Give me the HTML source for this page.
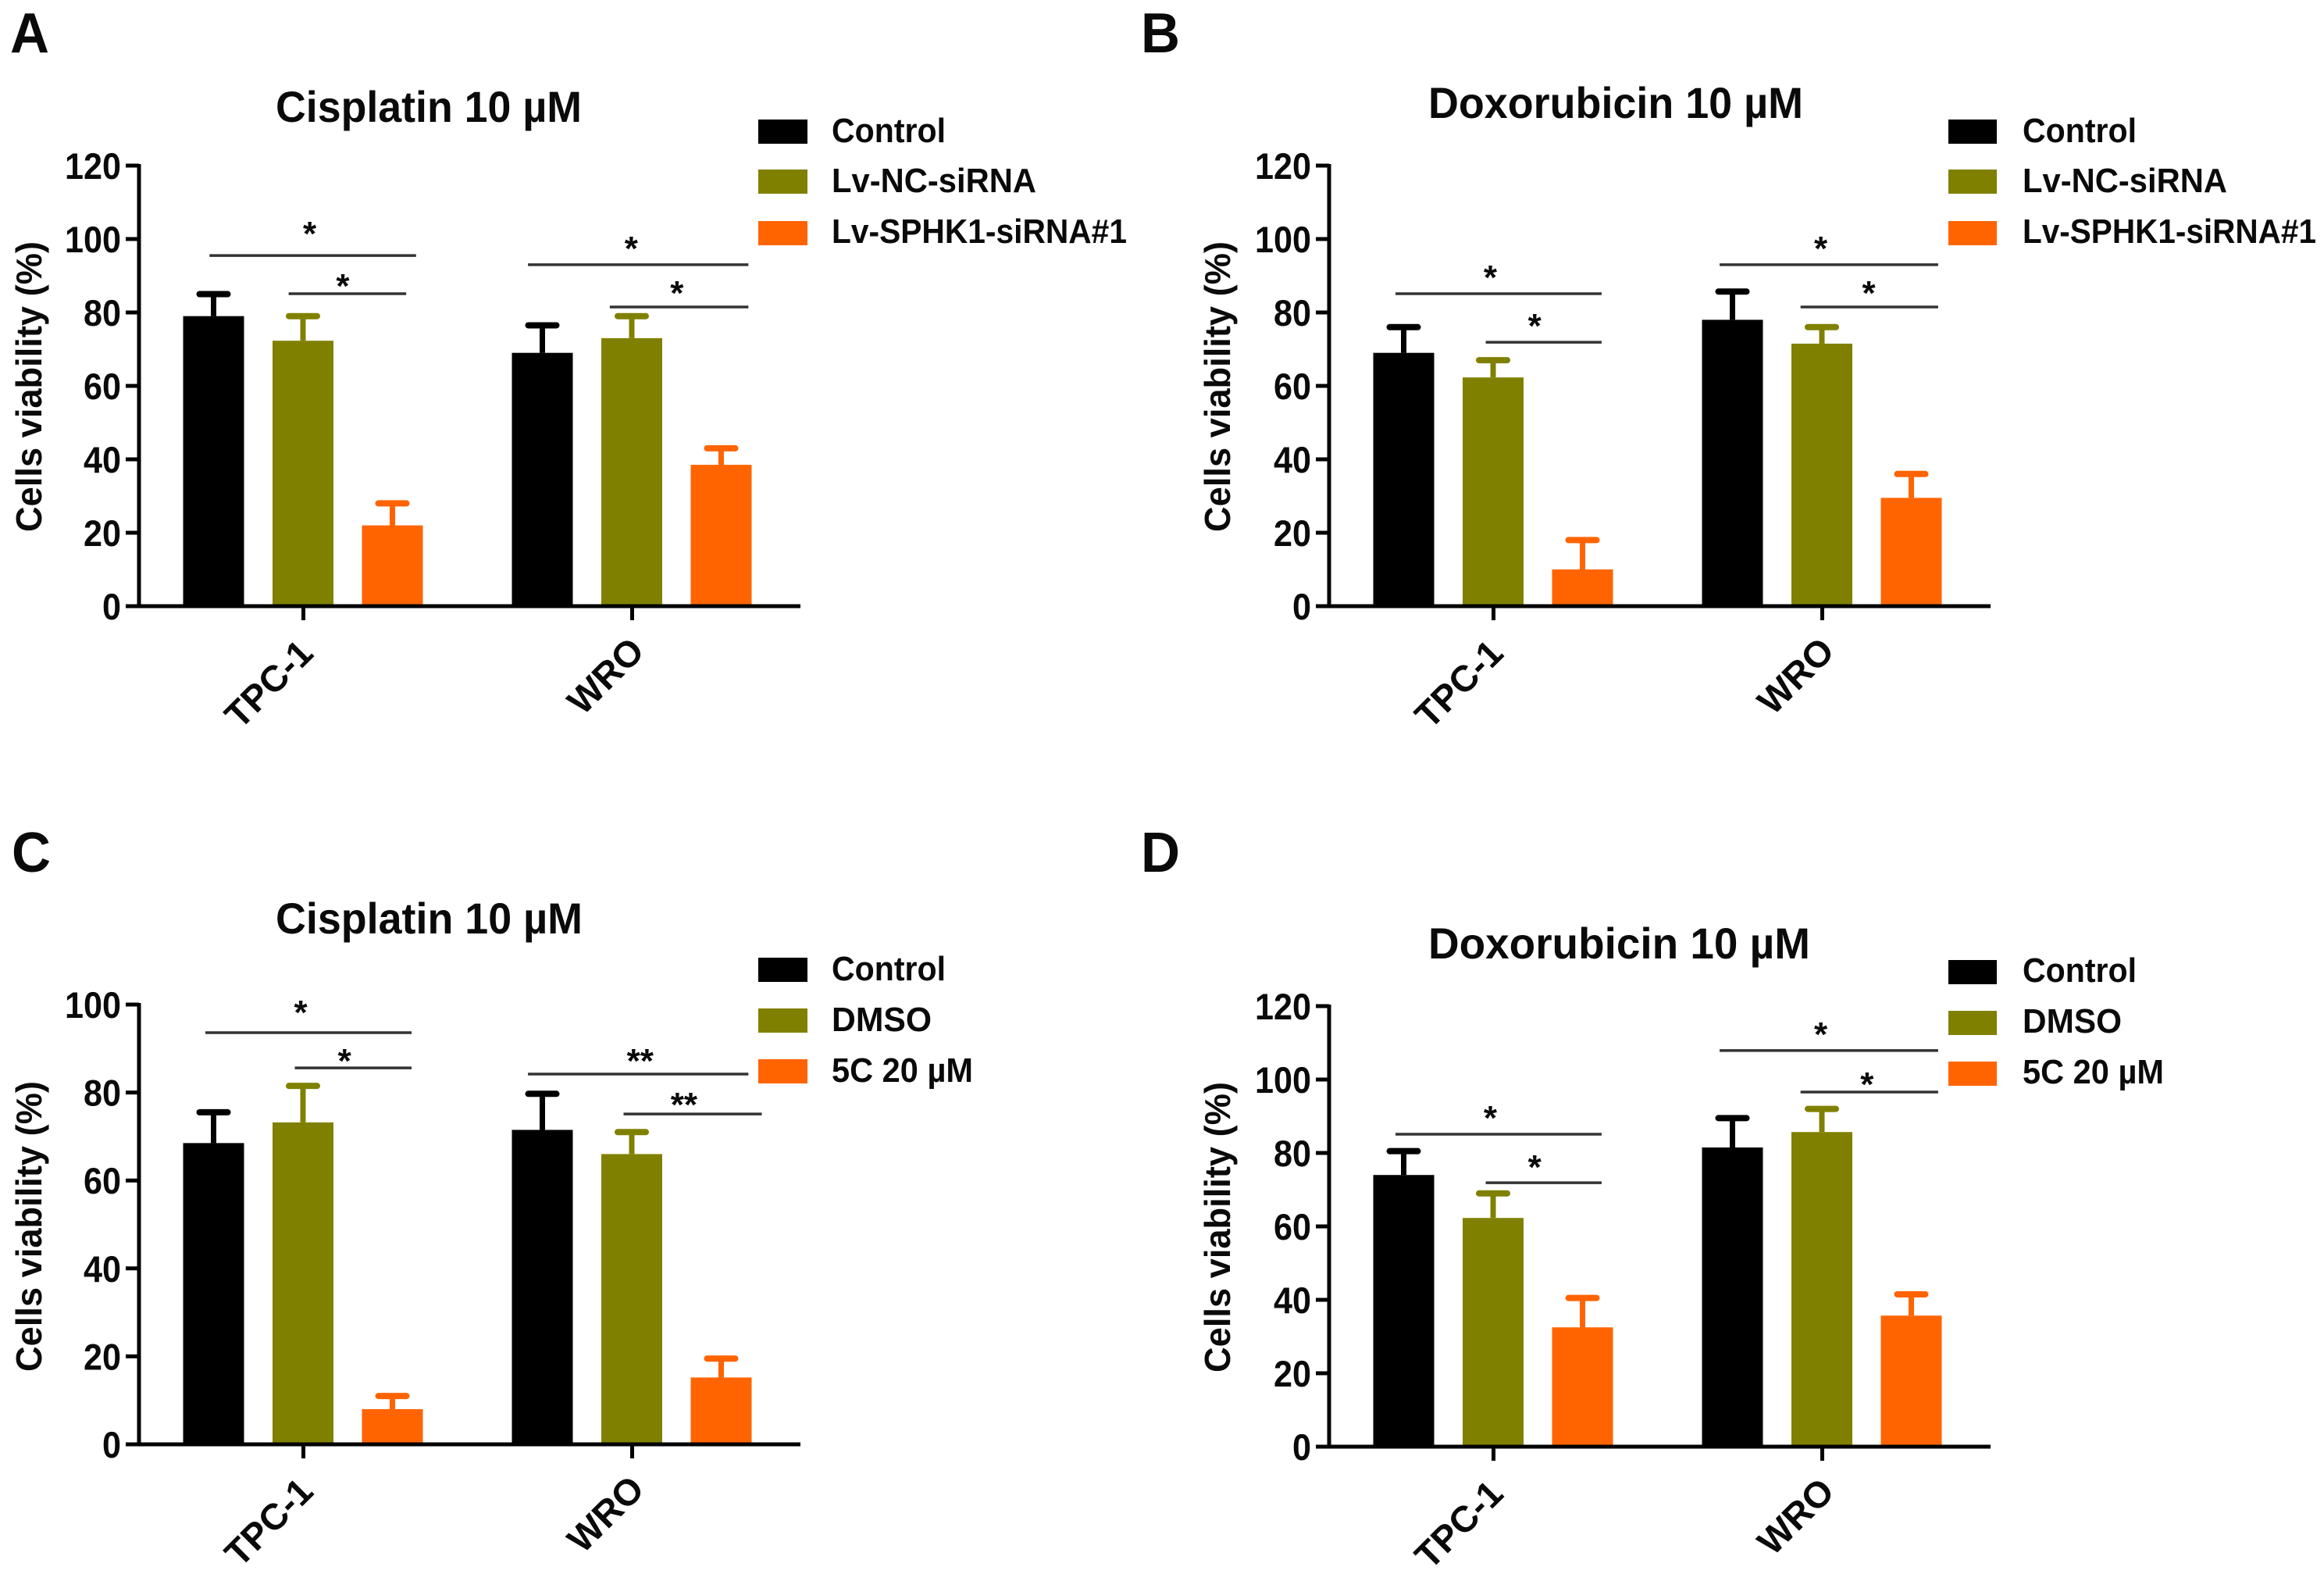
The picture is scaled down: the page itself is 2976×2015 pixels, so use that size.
<!DOCTYPE html>
<html lang="en">
<head>
<meta charset="utf-8">
<title>Cell viability bar charts</title>
<style>
html,body{margin:0;padding:0;background:#fff}
svg{display:block}
text{font-family:"Liberation Sans",sans-serif;font-weight:700;fill:#0a0a0a}
.panel{font-size:72px}
.title{font-size:56px}
.legend{font-size:44px}
.yt{font-size:46px}
</style>
</head>
<body>
<svg id="figure" xmlns="http://www.w3.org/2000/svg" width="2976" height="2015" viewBox="0 0 2976 2015">
<rect x="0" y="0" width="2976" height="2015" fill="#ffffff"/>

<text class="panel" x="13" y="67" textLength="50" lengthAdjust="spacingAndGlyphs">A</text>
<text class="panel" x="1461" y="67" textLength="50" lengthAdjust="spacingAndGlyphs">B</text>
<text class="panel" x="15" y="1116" textLength="50" lengthAdjust="spacingAndGlyphs">C</text>
<text class="panel" x="1461" y="1116" textLength="50" lengthAdjust="spacingAndGlyphs">D</text>

<text class="title" x="353" y="156" textLength="392" lengthAdjust="spacingAndGlyphs">Cisplatin 10 µM</text>
<text class="title" x="1829" y="151" textLength="480" lengthAdjust="spacingAndGlyphs">Doxorubicin 10 µM</text>
<text class="title" x="353" y="1195" textLength="393" lengthAdjust="spacingAndGlyphs">Cisplatin 10 µM</text>
<text class="title" x="1829" y="1227" textLength="489" lengthAdjust="spacingAndGlyphs">Doxorubicin 10 µM</text>

<text class="yt" transform="translate(53,681) rotate(-90)" textLength="372" lengthAdjust="spacingAndGlyphs">Cells viability (%)</text>
<text class="yt" transform="translate(1575,681) rotate(-90)" textLength="372" lengthAdjust="spacingAndGlyphs">Cells viability (%)</text>
<text class="yt" transform="translate(53,1756) rotate(-90)" textLength="372" lengthAdjust="spacingAndGlyphs">Cells viability (%)</text>
<text class="yt" transform="translate(1575,1757) rotate(-90)" textLength="372" lengthAdjust="spacingAndGlyphs">Cells viability (%)</text>

<g>
<rect x="971" y="153" width="63" height="31" fill="#000000"/>
<text class="legend" x="1065" y="182" textLength="146" lengthAdjust="spacingAndGlyphs">Control</text>
<rect x="971" y="217" width="63" height="31" fill="#808000"/>
<text class="legend" x="1065" y="246" textLength="262" lengthAdjust="spacingAndGlyphs">Lv-NC-siRNA</text>
<rect x="971" y="283" width="63" height="31" fill="#ff6400"/>
<text class="legend" x="1065" y="311" textLength="378" lengthAdjust="spacingAndGlyphs">Lv-SPHK1-siRNA#1</text>
</g>
<g>
<rect x="2495" y="153" width="62" height="31" fill="#000000"/>
<text class="legend" x="2590" y="182" textLength="146" lengthAdjust="spacingAndGlyphs">Control</text>
<rect x="2495" y="217" width="62" height="31" fill="#808000"/>
<text class="legend" x="2590" y="246" textLength="262" lengthAdjust="spacingAndGlyphs">Lv-NC-siRNA</text>
<rect x="2495" y="283" width="62" height="31" fill="#ff6400"/>
<text class="legend" x="2590" y="311" textLength="376" lengthAdjust="spacingAndGlyphs">Lv-SPHK1-siRNA#1</text>
</g>
<g>
<rect x="971" y="1226" width="63" height="31" fill="#000000"/>
<text class="legend" x="1065" y="1255" textLength="146" lengthAdjust="spacingAndGlyphs">Control</text>
<rect x="971" y="1291" width="63" height="31" fill="#808000"/>
<text class="legend" x="1065" y="1320" textLength="128" lengthAdjust="spacingAndGlyphs">DMSO</text>
<rect x="971" y="1356" width="63" height="31" fill="#ff6400"/>
<text class="legend" x="1065" y="1385" textLength="181" lengthAdjust="spacingAndGlyphs">5C 20 µM</text>
</g>
<g>
<rect x="2495" y="1229" width="62" height="31" fill="#000000"/>
<text class="legend" x="2590" y="1257" textLength="146" lengthAdjust="spacingAndGlyphs">Control</text>
<rect x="2495" y="1294" width="62" height="31" fill="#808000"/>
<text class="legend" x="2590" y="1322" textLength="127" lengthAdjust="spacingAndGlyphs">DMSO</text>
<rect x="2495" y="1359" width="62" height="31" fill="#ff6400"/>
<text class="legend" x="2590" y="1387" textLength="181" lengthAdjust="spacingAndGlyphs">5C 20 µM</text>
</g>
</svg>

<script>
const categories = ['TPC-1', 'WRO'];
const seriesColors = ['#000000', '#808000', '#ff6400'];

const ticksA = [0, 20, 40, 60, 80, 100, 120];
const controlA = [79, 69];
const controlAErr = [85, 76.5];
const nonsenseA = [72.3, 73];
const nonsenseAErr = [79, 79];
const knockdownA = [22, 38.5];
const knockdownAErr = [28, 43];
const sigGroupA = [0, 0, 1, 1];
const sigFromA = [-1.05, -0.165, -1.165, -0.25];
const sigToA = [1.26, 1.15, 1.3, 1.3];
const sigLevelA = [95.5, 85.1, 93, 81.5];
const starAtA = [0.07, 0.44, -0.01, 0.5];
const starLevelA = [102.8, 88.5, 98.7, 86.6];
const starTextA = ['*', '*', '*', '*'];

const ticksB = [0, 20, 40, 60, 80, 100, 120];
const controlB = [69, 78];
const controlBErr = [76, 85.7];
const nonsenseB = [62.3, 71.5];
const nonsenseBErr = [67, 76];
const knockdownB = [10, 29.5];
const knockdownBErr = [18, 36];
const sigGroupB = [0, 0, 1, 1];
const sigFromB = [-1.096, -0.087, -1.148, -0.243];
const sigToB = [1.209, 1.209, 1.296, 1.296];
const sigLevelB = [85.1, 71.9, 93, 81.5];
const starAtB = [-0.035, 0.46, -0.017, 0.52];
const starLevelB = [90.9, 77.7, 98.7, 86.6];
const starTextB = ['*', '*', '*', '*'];

const ticksC = [0, 20, 40, 60, 80, 100];
const controlC = [68.5, 71.5];
const controlCErr = [75.5, 79.7];
const dmsoC = [73.2, 66];
const dmsoCErr = [81.5, 71];
const inhibitorC = [8, 15.2];
const inhibitorCErr = [11, 19.5];
const sigGroupC = [0, 0, 1, 1];
const sigFromC = [-1.096, -0.096, -1.165, -0.096];
const sigToC = [1.21, 1.21, 1.3, 1.45];
const sigLevelC = [93.6, 85.6, 84.2, 75.1];
const starAtC = [-0.03, 0.46, 0.09, 0.58];
const starLevelC = [99.3, 88.3, 88.3, 78.3];
const starTextC = ['*', '*', '**', '**'];

const ticksD = [0, 20, 40, 60, 80, 100, 120];
const controlD = [74, 81.5];
const controlDErr = [80.5, 89.5];
const dmsoD = [62.3, 85.7];
const dmsoDErr = [69, 92];
const inhibitorD = [32.5, 35.7];
const inhibitorDErr = [40.5, 41.5];
const sigGroupD = [0, 0, 1, 1];
const sigFromD = [-1.096, -0.087, -1.148, -0.243];
const sigToD = [1.209, 1.209, 1.296, 1.296];
const sigLevelD = [85.1, 71.9, 107.9, 96.6];
const starAtD = [-0.035, 0.46, -0.017, 0.5];
const starLevelD = [90.9, 77.4, 113.6, 100];
const starTextD = ['*', '*', '*', '*'];

const NS = 'http://www.w3.org/2000/svg';
const figure = document.getElementById('figure');

function make(tag, attrs, parent) {
  const node = document.createElementNS(NS, tag);
  for (const key in attrs) node.setAttribute(key, attrs[key]);
  parent.appendChild(node);
  return node;
}

function drawPanel(id, frame, data) {
  const group = make('g', {}, figure);
  
  

  const yScale = v => frame.base - (v / frame.max) * (frame.base - frame.top);
  const tickX = i => frame.axisX + [210.5, 631.5][i];
  const barStep = 114.5;
  const barWidth = 78;
  const capHalf = 18;
  const barX = (c, s) => tickX(c) - 0.5 + (s - 1) * barStep;

  // bars and error bars
  data.series.forEach((series, s) => {
    categories.forEach((cat, c) => {
      const cx = barX(c, s);
      const color = seriesColors[s];
      const bar = make('rect', {
        x: cx - barWidth / 2, y: yScale(series.values[c]),
        width: barWidth, height: frame.base - yScale(series.values[c]), fill: color
      }, group);
      
      

      const stem = make('line', {
        x1: cx, x2: cx, y1: yScale(series.values[c]), y2: yScale(series.errors[c]),
        stroke: color, 'stroke-width': 7
      }, group);
      
      

      const cap = make('line', {
        x1: cx - capHalf, x2: cx + capHalf, y1: yScale(series.errors[c]), y2: yScale(series.errors[c]),
        stroke: color, 'stroke-width': 8, 'stroke-linecap': 'round'
      }, group);
      
      
    });
  });

  // axes
  const yAxis = make('line', {
    x1: frame.axisX, x2: frame.axisX, y1: frame.top - 2, y2: frame.base + 2,
    stroke: '#000', 'stroke-width': 5
  }, group);
  
  

  const xAxis = make('line', {
    x1: frame.axisX - 17, x2: frame.axisX + 847, y1: frame.base, y2: frame.base,
    stroke: '#000', 'stroke-width': 5
  }, group);
  
  

  // y ticks
  data.ticks.forEach(t => {
    const tick = make('line', {
      x1: frame.axisX - 17, x2: frame.axisX, y1: yScale(t), y2: yScale(t),
      stroke: '#000', 'stroke-width': 5
    }, group);
    
    

    const label = make('text', {
      x: frame.axisX - 23, y: yScale(t) + 17, 'text-anchor': 'end', 'font-size': 47,
      textLength: String(t).length * 24, lengthAdjust: 'spacingAndGlyphs'
    }, group);
    label.textContent = String(t);
    
    
  });

  // x ticks
  categories.forEach((cat, c) => {
    const tick = make('line', {
      x1: tickX(c), x2: tickX(c), y1: frame.base, y2: frame.base + 18,
      stroke: '#000', 'stroke-width': 5
    }, group);
    
    

    const ex = tickX(c) + 15 + c * 3;
    const ey = frame.base + 63 - c * 3;
    const label = make('text', {
      transform: 'translate(' + ex + ',' + ey + ') rotate(-45)',
      'text-anchor': 'end', 'font-size': 47
    }, group);
    label.textContent = cat;
    
    
  });

  // significance brackets
  data.sigLevel.forEach((level, i) => {
    const anchor = tickX(data.sigGroup[i]);
    const line = make('line', {
      x1: anchor + data.sigFrom[i] * barStep, x2: anchor + data.sigTo[i] * barStep,
      y1: yScale(level), y2: yScale(level),
      stroke: '#333', 'stroke-width': 3.5
    }, group);
    
    

    const star = make('text', {
      x: anchor + data.starAt[i] * barStep, y: yScale(data.starLevel[i]) + 21,
      'text-anchor': 'middle', 'font-size': 44
    }, group);
    star.textContent = data.starText[i];
    
    
  });
}

drawPanel('a', { axisX: 178, top: 212, base: 776, max: 120 }, {
  ticks: ticksA,
  series: [
    { values: controlA, errors: controlAErr },
    { values: nonsenseA, errors: nonsenseAErr },
    { values: knockdownA, errors: knockdownAErr }
  ],
  sigGroup: sigGroupA, sigFrom: sigFromA, sigTo: sigToA, sigLevel: sigLevelA,
  starAt: starAtA, starLevel: starLevelA, starText: starTextA
});

drawPanel('b', { axisX: 1702, top: 212, base: 776, max: 120 }, {
  ticks: ticksB,
  series: [
    { values: controlB, errors: controlBErr },
    { values: nonsenseB, errors: nonsenseBErr },
    { values: knockdownB, errors: knockdownBErr }
  ],
  sigGroup: sigGroupB, sigFrom: sigFromB, sigTo: sigToB, sigLevel: sigLevelB,
  starAt: starAtB, starLevel: starLevelB, starText: starTextB
});

drawPanel('c', { axisX: 178, top: 1286, base: 1849, max: 100 }, {
  ticks: ticksC,
  series: [
    { values: controlC, errors: controlCErr },
    { values: dmsoC, errors: dmsoCErr },
    { values: inhibitorC, errors: inhibitorCErr }
  ],
  sigGroup: sigGroupC, sigFrom: sigFromC, sigTo: sigToC, sigLevel: sigLevelC,
  starAt: starAtC, starLevel: starLevelC, starText: starTextC
});

drawPanel('d', { axisX: 1702, top: 1288, base: 1852, max: 120 }, {
  ticks: ticksD,
  series: [
    { values: controlD, errors: controlDErr },
    { values: dmsoD, errors: dmsoDErr },
    { values: inhibitorD, errors: inhibitorDErr }
  ],
  sigGroup: sigGroupD, sigFrom: sigFromD, sigTo: sigToD, sigLevel: sigLevelD,
  starAt: starAtD, starLevel: starLevelD, starText: starTextD
});
</script>
</body>
</html>
